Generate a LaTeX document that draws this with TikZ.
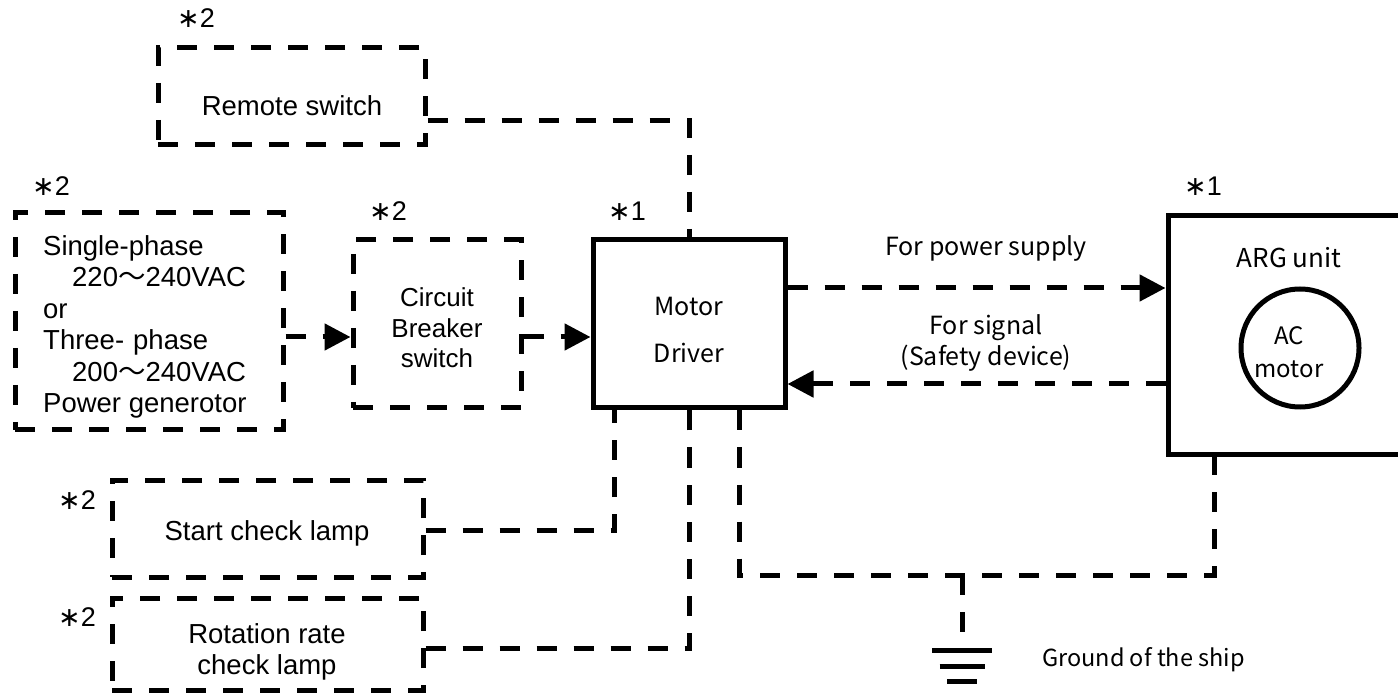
\documentclass[tikz,border=0pt]{standalone}
\usepackage{fontspec}
\setmainfont{Liberation Sans}
\newfontfamily\goth{Noto Sans CJK JP}
\newfontfamily\dv{DejaVu Sans}
\usetikzlibrary{arrows.meta,fit}
\begin{document}
\begin{tikzpicture}[x=1pt,y=-1pt]
\tikzset{
 dl/.style={line width=5pt, dash pattern=on 20pt off 17pt},
 dbox/.style={draw, dl, inner sep=0pt},
 sbox/.style={draw, line width=5pt, inner sep=0pt},
 arial/.style={font=\fontsize{27.5}{31.5}\selectfont, inner sep=0pt},
 gt/.style={font=\goth\fontsize{23}{33}\selectfont, inner sep=0pt},
 tip/.style={-{Triangle[length=26pt,width=26pt]}},
 mark2/.style={font=\fontsize{27}{30}\selectfont, inner sep=0pt},
}
\useasboundingbox (0,0) rectangle (1398,700);
\clip (0,0) rectangle (1398,700);
% boxes
\node[dbox, fit={(158,48)(425,145)}] (remote) {};
\node[arial] (remote-t) at (292,106) {Remote switch};
\node[dbox, fit={(15,213)(283,430)}] (power) {};
\node[arial, align=left, anchor=west] (power-t) at (43,327) {Single-phase\\\hspace*{29pt}220{\goth ～}240VAC\\or\\Three-\hspace{9pt}phase\\\hspace*{29pt}200{\goth ～}240VAC\\Power generotor};
\node[dbox, fit={(353,240)(521,408)}] (breaker) {};
\node[arial, align=center, font=\fontsize{26}{30.5}\selectfont] (breaker-t) at (437,328) {Circuit\\Breaker\\switch};
\node[sbox, fit={(593,240)(785,408)}] (motor) {};
\node[gt, align=center, font=\goth\fontsize{25}{47}\selectfont] (motor-t) at (689,330) {Motor\\Driver};
\node[sbox, fit={(1168,216)(1420,455)}] (arg) {};
\node[gt, font=\goth\fontsize{26}{33}\selectfont] (arg-t) at (1289,258) {ARG unit};
\node[circle, draw, line width=5pt, minimum size=118pt, inner sep=0pt] (acm) at (1300,348) {};
\node[gt, align=center, font=\goth\fontsize{24}{33}\selectfont] (acm-t) at (1289,352) {AC\\motor};
\node[dbox, fit={(112,480)(423,577)}] (start) {};
\node[arial] (start-t) at (267,533) {Start check lamp};
\node[dbox, fit={(112,598)(423,690)}] (rot) {};
\node[arial, align=center, font=\fontsize{27.5}{31}\selectfont] (rot-t) at (267,652) {Rotation rate\\check lamp};
% star marks
\node[mark2] (m1) at (196,18) {{\dv ∗}2};
\node[mark2] (m2) at (51,186) {{\dv ∗}2};
\node[mark2] (m3) at (388,211) {{\dv ∗}2};
\node[mark2] (m4) at (627,211) {{\dv ∗}1};
\node[mark2] (m5) at (1203,186) {{\dv ∗}1};
\node[mark2] (m6) at (77,500) {{\dv ∗}2};
\node[mark2] (m7) at (77,617) {{\dv ∗}2};
% connector labels
\node[gt, font=\goth\fontsize{25}{31}\selectfont] (lp) at (986,248) {For power supply};
\node[gt, align=center, font=\goth\fontsize{25}{31}\selectfont] (ls) at (986,343) {For signal\\(Safety device)};
% ground
\coordinate (gj) at (962,575);
\coordinate (gnd) at (962,650);
\draw[line width=5pt] (932,650) -- (992,650);
\draw[line width=5pt] (939.5,666) -- (984.5,666);
\draw[line width=5pt] (947,681) -- (977,681);
\node[gt, anchor=west, font=\goth\fontsize{23.5}{31}\selectfont] (gt) at (1042,660) {Ground of the ship};
% connectors
\draw[dl] ([yshift=-24pt]remote.east) -| (motor.north);
\draw[dl,tip] (power.east |- 0,337) -- (breaker.west |- 0,337);
\draw[dl,tip] (breaker.east |- 0,337) -- (motor.west |- 0,337);
\draw[dl,tip] (motor.east |- 0,288) -- (arg.west |- 0,288);
\draw[dl,tip] (arg.west |- 0,384) -- (motor.east |- 0,384);
\draw[dl] (start.east |- 0,530) -| ([xshift=24pt]motor.south west);
\draw[dl] (rot.east |- 0,648) -| (motor.south);
\draw[dl] ([xshift=-48pt]motor.south east) |- (gj) -| ([xshift=49pt]arg.south west);
\draw[dl] (gj) -- (gnd);
\end{tikzpicture}
\end{document}
